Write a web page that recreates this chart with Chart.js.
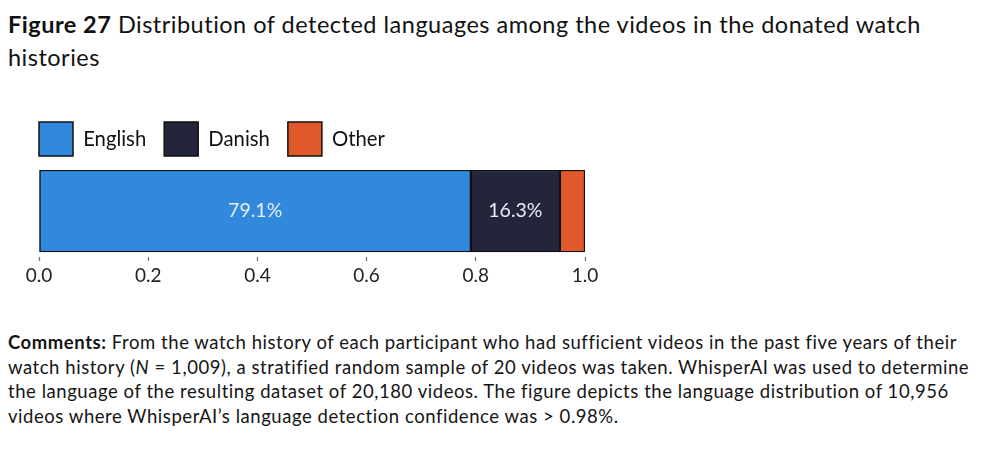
<!DOCTYPE html>
<html>
<head>
<meta charset="utf-8">
<script src="https://cdn.jsdelivr.net/npm/chart.js@4"></script>
<style>
  body { margin: 0; background: #fff; font-family: Lato, "Noto Sans", sans-serif; color: #111; }
  .page { position: relative; width: 1000px; height: 454px; overflow: hidden; }
  .title { position: absolute; left: 8px; top: 8px; font-size: 23.5px; line-height: 33px; letter-spacing: 0.5px; white-space: nowrap; }
  .title b { font-weight: 700; }
  .comments { position: absolute; left: 8px; top: 330px; font-size: 18.5px; line-height: 24.5px; letter-spacing: 0.55px; white-space: nowrap; color: #151515; }
  .comments b { font-weight: 700; }
  #wrap { position: absolute; left: 0; top: 104px; width: 640px; height: 186px; }
</style>
</head>
<body>
<div class="page">
  <div class="title"><b>Figure 27</b> Distribution of detected languages among the videos in the donated watch<br>histories</div>
  <div id="wrap"><canvas id="chart"></canvas></div>
  <div class="comments">
    <b>Comments:</b> From the watch history of each participant who had sufficient videos in the past five years of their<br>
    watch history (<i>N</i> = 1,009), a stratified random sample of 20 videos was taken. WhisperAI was used to determine<br>
    the language of the resulting dataset of 20,180 videos. The figure depicts the language distribution of 10,956<br>
    videos where WhisperAI’s language detection confidence was &gt; 0.98%.
  </div>
</div>
<script>
// ── Data ──────────────────────────────────────────────────────────────────────
const languages = ["English", "Danish", "Other"];
const shares = [0.791, 0.163, 0.046];
const shareLabels = ["79.1%", "16.3%", ""];
const colors = ["#3288dd", "#23263b", "#e0592b"];
const xTicks = [0, 0.2, 0.4, 0.6, 0.8, 1.0];

const FONT = "Lato, 'Noto Sans', sans-serif";

// ── In-bar labels ─────────────────────────────────────────────────────────────
const barText = {
  id: "barText",
  afterDatasetsDraw(chart) {
    const ctx = chart.ctx;
    ctx.save();
    ctx.font = "19.5px " + FONT;
    ctx.fillStyle = "#e6edf7";
    ctx.textAlign = "center";
    ctx.textBaseline = "middle";
    chart.data.datasets.forEach((ds, i) => {
      const txt = shareLabels[i];
      if (!txt) return;
      const bar = chart.getDatasetMeta(i).data[0];
      ctx.fillText(txt, (bar.x + bar.base) / 2, bar.y);
    });
    ctx.restore();
  },
};

// space between legend and bar
const legendGap = {
  id: "legendGap",
  afterInit(chart) {
    const fit = chart.legend.fit;
    chart.legend.fit = function () {
      fit.call(this);
      this.height += 4;
    };
  },
};

new Chart(document.getElementById("chart"), {
  type: "bar",
  data: {
    labels: [""],
    datasets: languages.map((name, i) => ({
      label: name,
      data: [shares[i]],
      backgroundColor: colors[i],
      borderColor: "#111",
      borderWidth: 1.5,
      borderSkipped: false,
      barPercentage: 1,
      categoryPercentage: 1,
    })),
  },
  options: {
    indexAxis: "y",
    responsive: true,
    maintainAspectRatio: false,
    animation: false,
    layout: { padding: { left: 21, right: 55, top: 0, bottom: 0 } },
    plugins: {
      legend: {
        position: "top",
        align: "start",
        labels: {
          boxWidth: 34,
          boxHeight: 34,
          padding: 18,
          color: "#111",
          font: { size: 20.3, family: FONT },
        },
      },
      tooltip: { enabled: false },
    },
    scales: {
      x: {
        stacked: true,
        min: 0,
        max: 1,
        afterBuildTicks(axis) { axis.ticks = xTicks.map(v => ({ value: v })); },
        ticks: {
          color: "#222",
          font: { size: 19, family: FONT },
          padding: 3,
          callback: v => v.toFixed(1),
        },
        grid: {
          drawOnChartArea: false,
          drawTicks: true,
          tickLength: 9,
          tickBorderDash: [0, 5, 4, 30],
          tickColor: "#777",
          tickWidth: 1.3,
        },
        border: { display: false },
      },
      y: {
        stacked: true,
        display: true,
        ticks: { display: false },
        grid: { display: false },
        border: { display: false },
        afterFit(axis) { axis.width = 18; },
      },
    },
  },
  plugins: [barText, legendGap],
});
</script>
</body>
</html>
